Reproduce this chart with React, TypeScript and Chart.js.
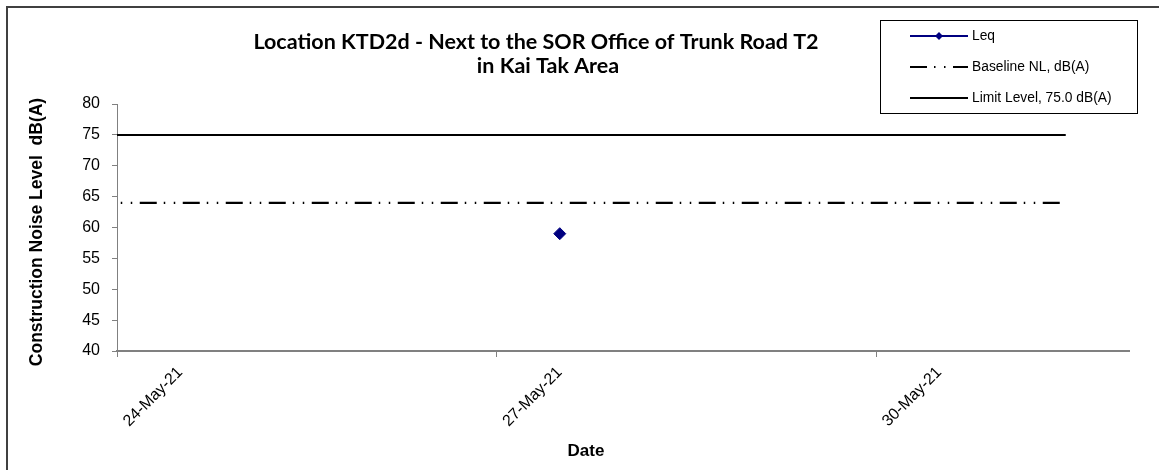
import React, { useEffect, useRef } from 'react';
import { Chart, registerables } from 'chart.js';

Chart.register(...registerables);

// ---- data ----
const dates = ['23-May-21', '24-May-21', '25-May-21', '26-May-21', '27-May-21', '28-May-21', '29-May-21', '30-May-21', '31-May-21'];
const leqValues = [null, null, null, null, 59.0, null, null, null, null];
const baselineValues = [64, 64, 64, 64, 64, 64, 64, 64, 64];
const limitValues = [75, 75, 75, 75, 75, 75, 75, 75, 75];
const shownDateLabels = ['24-May-21', '27-May-21', '30-May-21'];
const seriesLabels = ['Leq', 'Baseline NL, dB(A)', 'Limit Level, 75.0 dB(A)'];
const titleLines = ['Location KTD2d - Next to the SOR Office of Trunk Road T2', 'in Kai Tak Area'];
const yAxisTitle = 'Construction Noise Level  dB(A)';
const xAxisTitle = 'Date';

const AXIS_FONT = "'Liberation Sans', Arial, sans-serif";

const toPoints = (vals: (number | null)[]) => dates.map((_, i) => ({ x: i, y: vals[i] }));

const decorPlugin = {
  id: 'decor',
  afterDraw(chart: any) {
    const ctx = chart.ctx as CanvasRenderingContext2D;
    ctx.save();
    // outer frame (left & top visible)
    ctx.strokeStyle = '#404040';
    ctx.lineWidth = 2;
    ctx.beginPath();
    ctx.moveTo(7, 480);
    ctx.lineTo(7, 7);
    ctx.lineTo(1170, 7);
    ctx.stroke();

    // title
    ctx.fillStyle = '#000';
    ctx.font = "bold 21.5px Lato, 'Open Sans', sans-serif";
    ctx.textAlign = 'center';
    ctx.textBaseline = 'middle';
    ctx.fillText(titleLines[0], 536, 42);
    ctx.fillText(titleLines[1], 548, 66);

    // y axis title
    ctx.save();
    ctx.translate(37, 232);
    ctx.rotate(-Math.PI / 2);
    ctx.font = `bold 17.5px ${AXIS_FONT}`;
    ctx.fillText(yAxisTitle, 0, 0);
    ctx.restore();

    // x axis title
    ctx.font = `bold 17px ${AXIS_FONT}`;
    ctx.fillText(xAxisTitle, 586, 451);

    // legend box
    ctx.fillStyle = '#fff';
    ctx.fillRect(880.5, 20.5, 257, 93);
    ctx.strokeStyle = '#000';
    ctx.lineWidth = 1;
    ctx.strokeRect(880.5, 20.5, 257, 93);
    const ds = chart.data.datasets;
    ds.forEach((d: any, i: number) => {
      const y = 36 + i * 31;
      ctx.save();
      ctx.strokeStyle = d.borderColor;
      ctx.lineWidth = d.borderWidth;
      ctx.setLineDash(d.borderDash || []);
      ctx.beginPath();
      ctx.moveTo(910, y);
      ctx.lineTo(968, y);
      ctx.stroke();
      ctx.setLineDash([]);
      if (d.pointRadius > 0) {
        const r = 4;
        ctx.fillStyle = d.backgroundColor;
        ctx.beginPath();
        ctx.moveTo(939, y - r);
        ctx.lineTo(939 + r, y);
        ctx.lineTo(939, y + r);
        ctx.lineTo(939 - r, y);
        ctx.closePath();
        ctx.fill();
      }
      ctx.restore();
      ctx.fillStyle = '#000';
      ctx.font = `13.8px ${AXIS_FONT}`;
      ctx.textAlign = 'left';
      ctx.textBaseline = 'middle';
      ctx.fillText(d.label, 972, y);
    });
    ctx.restore();
  },
};

export default function App() {
  const ref = useRef<HTMLCanvasElement | null>(null);
  useEffect(() => {
    document.body.style.margin = '0';
    if (!ref.current) return;
    const chart = new Chart(ref.current, {
      type: 'line',
      data: {
        datasets: [
          {
            label: seriesLabels[0],
            data: toPoints(leqValues),
            borderColor: '#000080',
            backgroundColor: '#000080',
            borderWidth: 2,
            pointStyle: 'rectRot',
            pointRadius: 6,
            pointBorderWidth: 1,
            pointHoverRadius: 6,
          },
          {
            label: seriesLabels[1],
            data: toPoints(baselineValues),
            borderColor: '#000',
            backgroundColor: '#000',
            borderWidth: 2.2,
            borderDash: [17, 7, 1.5, 8.5, 1.5, 7.5],
            pointRadius: 0,
          },
          {
            label: seriesLabels[2],
            data: toPoints(limitValues),
            borderColor: '#000',
            backgroundColor: '#000',
            borderWidth: 2,
            pointRadius: 0,
          },
        ] as any,
      },
      options: {
        animation: false,
        responsive: false,
        layout: { padding: { left: 0, top: 104, right: 30, bottom: 0 } },
        plugins: {
          legend: { display: false },
          title: { display: false },
          tooltip: { enabled: false },
        },
        scales: {
          x: {
            type: 'linear',
            min: 0.5,
            max: 8.5,
            afterBuildTicks: (s: any) => {
              s.ticks = dates.map((_, i) => ({ value: i })).filter((t) => t.value >= 1);
            },
            afterFit: (s: any) => {
              s.height = 119;
            },
            ticks: {
              autoSkip: false,
              maxRotation: 45,
              minRotation: 45,
              padding: 6,
              color: '#000',
              font: { family: AXIS_FONT, size: 16 },
              callback: (v: any) => (shownDateLabels.includes(dates[v]) ? dates[v] : ''),
            },
            grid: {
              drawOnChartArea: false,
              offset: true,
              tickLength: 6,
              tickColor: (c: any) => (shownDateLabels.includes(dates[c.index + 1]) ? '#808080' : 'rgba(0,0,0,0)'),
            },
            border: { color: '#808080', width: 2 },
          },
          y: {
            min: 40,
            max: 80,
            afterFit: (s: any) => {
              s.width = 117;
            },
            ticks: {
              stepSize: 5,
              padding: 12,
              color: '#000',
              font: { family: AXIS_FONT, size: 16 },
            },
            grid: {
              drawOnChartArea: false,
              tickLength: 5,
              tickColor: '#808080',
            },
            border: { color: '#808080', width: 1 },
          },
        },
      } as any,
      plugins: [decorPlugin],
    });
    return () => chart.destroy();
  }, []);
  return (
    <div style={{ width: 1159, height: 470 }}>
      <canvas ref={ref} width={1159} height={470} style={{ display: 'block' }} />
    </div>
  );
}
